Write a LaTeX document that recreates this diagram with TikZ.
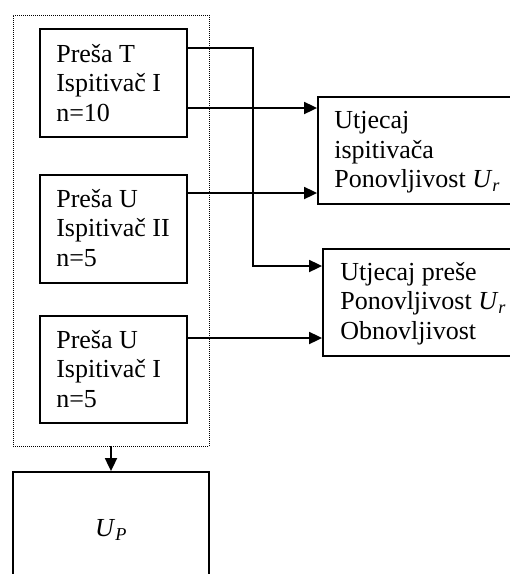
\documentclass[tikz,border=0pt]{standalone}
\usepackage{amsmath}
\usepackage{fontspec}
\setmainfont{Liberation Serif}
\usetikzlibrary{arrows.meta}

\tikzset{
  tekst/.style={font=\fontsize{26}{29.5}\selectfont, inner sep=0pt, align=left, anchor=north west},
  kutija/.style={draw, line width=1.8pt, inner sep=0pt},
  grupa/.style={draw, line width=0.9pt, dash pattern=on 1pt off 1pt},
  strelica/.style={line width=1.8pt, -{Triangle[length=13pt,width=12pt]}}
}

\begin{document}
\begin{tikzpicture}[x=1pt, y=-1pt]

\useasboundingbox (0,0) rectangle (510,574);
\clip (0,0) rectangle (510,574);

% Isprekidani okvir oko tri mjerenja
\node[grupa, minimum width=196pt, minimum height=431pt] (G) at (111,230.5) {};

% Mjerenja
\node[kutija, minimum width=147pt, minimum height=108pt] (T) at (113.5,83) {};
\node[tekst] (Tt) at ([xshift=17pt,yshift=-16pt]T.north west) {Preša T\\Ispitivač I\\n=10};
\node[kutija, minimum width=147pt, minimum height=108pt] (U2) at (113.5,229) {};
\node[tekst] (U2t) at ([xshift=17pt,yshift=-15pt]U2.north west) {Preša U\\Ispitivač II\\n=5};
\node[kutija, minimum width=147pt, minimum height=107pt] (U1) at (113.5,369.5) {};
\node[tekst] (U1t) at ([xshift=17pt,yshift=-15pt]U1.north west) {Preša U\\Ispitivač I\\n=5};

% Utjecaji
\node[kutija, minimum width=230pt, minimum height=107pt] (Ur) at (433,150.5) {};
\node[tekst] (Urt) at ([xshift=17pt,yshift=-15pt]Ur.north west) {Utjecaj\\ispitivača\\Ponovljivost \textit{U}$_{\textit{r}}$};
\node[kutija, minimum width=230pt, minimum height=107pt] (Ur2) at (438,302.5) {};
\node[tekst] (Ur2t) at ([xshift=18pt,yshift=-14pt]Ur2.north west) {Utjecaj preše\\Ponovljivost \textit{U}$_{\textit{r}}$\\Obnovljivost};

% Ukupna nesigurnost
\node[kutija, font=\fontsize{26}{29.5}\selectfont, minimum width=196pt, minimum height=116pt] (UP) at (111,530) {\textit{U}$_{\textit{P}}$};

% Veze
\draw[strelica] ([yshift=35pt]T.east) -- ++(65,0) |- ([yshift=36.5pt]Ur2.west);
\draw[strelica] ([yshift=-25pt]T.east) coordinate (a) -- (a -| Ur.west);
\draw[strelica] ([yshift=36pt]U2.east) coordinate (b) -- (b -| Ur.west);
\draw[strelica] ([yshift=31.5pt]U1.east) coordinate (c) -- (c -| Ur2.west);
\draw[strelica] (G.south) -- (UP.north);

\end{tikzpicture}
\end{document}
